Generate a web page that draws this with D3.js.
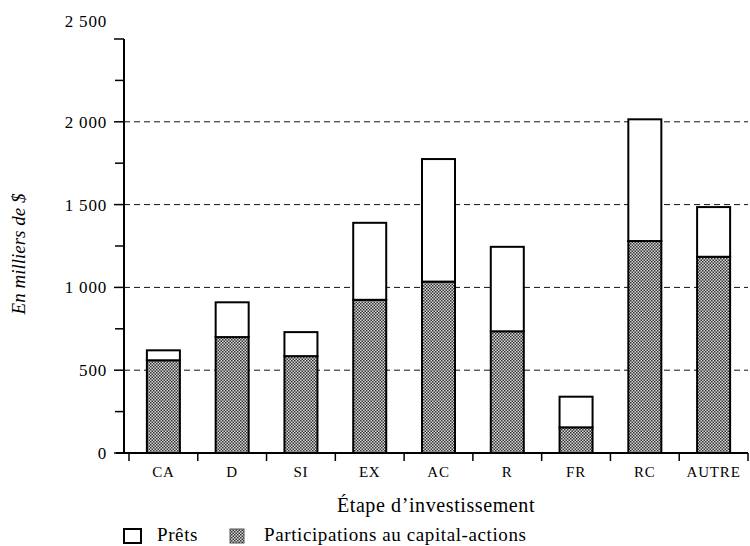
<!DOCTYPE html>
<html>
<head>
<meta charset="utf-8">
<script src="https://cdn.jsdelivr.net/npm/d3@7"></script>
<style>
  body { margin: 0; background: #fff; }
  svg { display: block; font-family: "Liberation Serif", "DejaVu Serif", serif; }
</style>
</head>
<body>
<svg width="750" height="546"></svg>
<script>
const width = 750, height = 546;
const svg = d3.select("svg");

// data (thousands of $)
const stages = ["CA", "D", "SI", "EX", "AC", "R", "FR", "RC", "AUTRE"];
const equity = [560, 700, 585, 925, 1035, 735, 155, 1280, 1185];
const loans = [60, 210, 145, 465, 740, 510, 185, 735, 300];
const yTicks = [0, 500, 1000, 1500, 2000, 2500];
const yMinor = [250, 750, 1250, 1750, 2250];
const seriesNames = ["Prêts", "Participations au capital-actions"];

const rows = stages.map((s, i) => ({ stage: s, equity: equity[i], loans: loans[i] }));
const stacked = d3.stack().keys(["equity", "loans"])(rows);

const x0 = 124, xEnd = 748, y0 = 453;
const x = d3.scaleBand().domain(stages).range([129, 748]).paddingInner(0.52).paddingOuter(0.26);
const y = d3.scaleLinear().domain([0, 2500]).range([y0, 39]);

// checker pattern for equity
const defs = svg.append("defs");
const pat = defs.append("pattern")
    .attr("id", "checker")
    .attr("width", 3).attr("height", 3)
    .attr("patternUnits", "userSpaceOnUse");
pat.append("rect").attr("width", 3).attr("height", 3).attr("fill", "#d8d8d8");
pat.append("rect").attr("width", 1.5).attr("height", 1.5).attr("fill", "#333");
pat.append("rect").attr("x", 1.5).attr("y", 1.5).attr("width", 1.5).attr("height", 1.5).attr("fill", "#333");

// dashed grid lines
svg.append("g")
    .selectAll("line")
    .data(yTicks.filter(d => d > 0 && d < 2500))
    .enter().append("line")
    .attr("x1", x0).attr("x2", xEnd)
    .attr("y1", d => y(d)).attr("y2", d => y(d))
    .attr("stroke", "#111")
    .attr("stroke-width", 1)
    .attr("stroke-dasharray", "6,4");

// bars
const fills = { equity: "url(#checker)", loans: "#fff" };
svg.append("g")
    .selectAll("g")
    .data(stacked)
    .enter().append("g")
    .attr("fill", d => fills[d.key])
    .selectAll("rect")
    .data(d => d)
    .enter().append("rect")
    .attr("x", d => x(d.data.stage))
    .attr("width", x.bandwidth())
    .attr("y", d => y(d[1]))
    .attr("height", d => y(d[0]) - y(d[1]))
    .attr("stroke", "#000")
    .attr("stroke-width", 2);

// y axis
const yAxis = svg.append("g").attr("transform", `translate(${x0},0)`);
yAxis.append("line")
    .attr("x1", 0).attr("x2", 0)
    .attr("y1", y(2500)).attr("y2", y0 + 1)
    .attr("stroke", "#000").attr("stroke-width", 2);
yAxis.selectAll(".major")
    .data(yTicks)
    .enter().append("line")
    .attr("x1", -10).attr("x2", 0)
    .attr("y1", d => y(d)).attr("y2", d => y(d))
    .attr("stroke", "#000").attr("stroke-width", 1.5);
yAxis.selectAll(".minor")
    .data(yMinor)
    .enter().append("line")
    .attr("x1", -9).attr("x2", 0)
    .attr("y1", d => y(d)).attr("y2", d => y(d))
    .attr("stroke", "#000").attr("stroke-width", 1.5);
const fmt = d => d3.format(",")(d).replace(",", " ");
yAxis.selectAll("text")
    .data(yTicks)
    .enter().append("text")
    .attr("x", -17)
    .attr("y", d => d === 2500 ? y(d) - 18 : y(d))
    .attr("dy", "0.35em")
    .attr("text-anchor", "end")
    .style("font-size", "17px")
    .style("letter-spacing", "0.8px")
    .text(fmt);

// x axis
const xAxis = svg.append("g").attr("transform", `translate(0,${y0})`);
xAxis.append("line")
    .attr("x1", x0 - 8).attr("x2", xEnd)
    .attr("stroke", "#000").attr("stroke-width", 2);
const step = x.step();
const bounds = stages.map(s => x(s) - (step - x.bandwidth()) / 2).concat([xEnd]);
xAxis.selectAll(".xt")
    .data(bounds)
    .enter().append("line")
    .attr("x1", d => d).attr("x2", d => d)
    .attr("y1", 0).attr("y2", 8)
    .attr("stroke", "#000").attr("stroke-width", 1.5);
xAxis.selectAll("text")
    .data(stages)
    .enter().append("text")
    .attr("x", d => x(d) + x.bandwidth() / 2)
    .attr("y", 24)
    .attr("text-anchor", "middle")
    .style("font-size", "15px")
    .style("letter-spacing", "0.8px")
    .text(d => d);

// axis titles
svg.append("text")
    .attr("x", 436).attr("y", 512)
    .attr("text-anchor", "middle")
    .style("font-size", "20px")
    .style("letter-spacing", "0.6px")
    .text("Étape d’investissement");

svg.append("text")
    .attr("transform", "rotate(-90)")
    .attr("x", -254).attr("y", 25)
    .attr("text-anchor", "middle")
    .style("font-size", "19px")
    .style("font-style", "italic")
    .text("En milliers de $");

// legend
const legendX = [124, 230];
const legendTextX = [157, 264];
const legendFill = ["#fff", "url(#checker)"];
const legend = svg.append("g");
legend.selectAll("rect")
    .data(seriesNames)
    .enter().append("rect")
    .attr("x", (d, i) => legendX[i]).attr("y", 529)
    .attr("width", (d, i) => i === 0 ? 17 : 14).attr("height", 14)
    .attr("fill", (d, i) => legendFill[i])
    .attr("stroke", (d, i) => i === 0 ? "#000" : "#555")
    .attr("stroke-width", (d, i) => i === 0 ? 2 : 1);
legend.selectAll("text")
    .data(seriesNames)
    .enter().append("text")
    .attr("x", (d, i) => legendTextX[i]).attr("y", 541)
    .style("font-size", "19px")
    .style("letter-spacing", "0.6px")
    .text(d => d);
</script>
</body>
</html>
